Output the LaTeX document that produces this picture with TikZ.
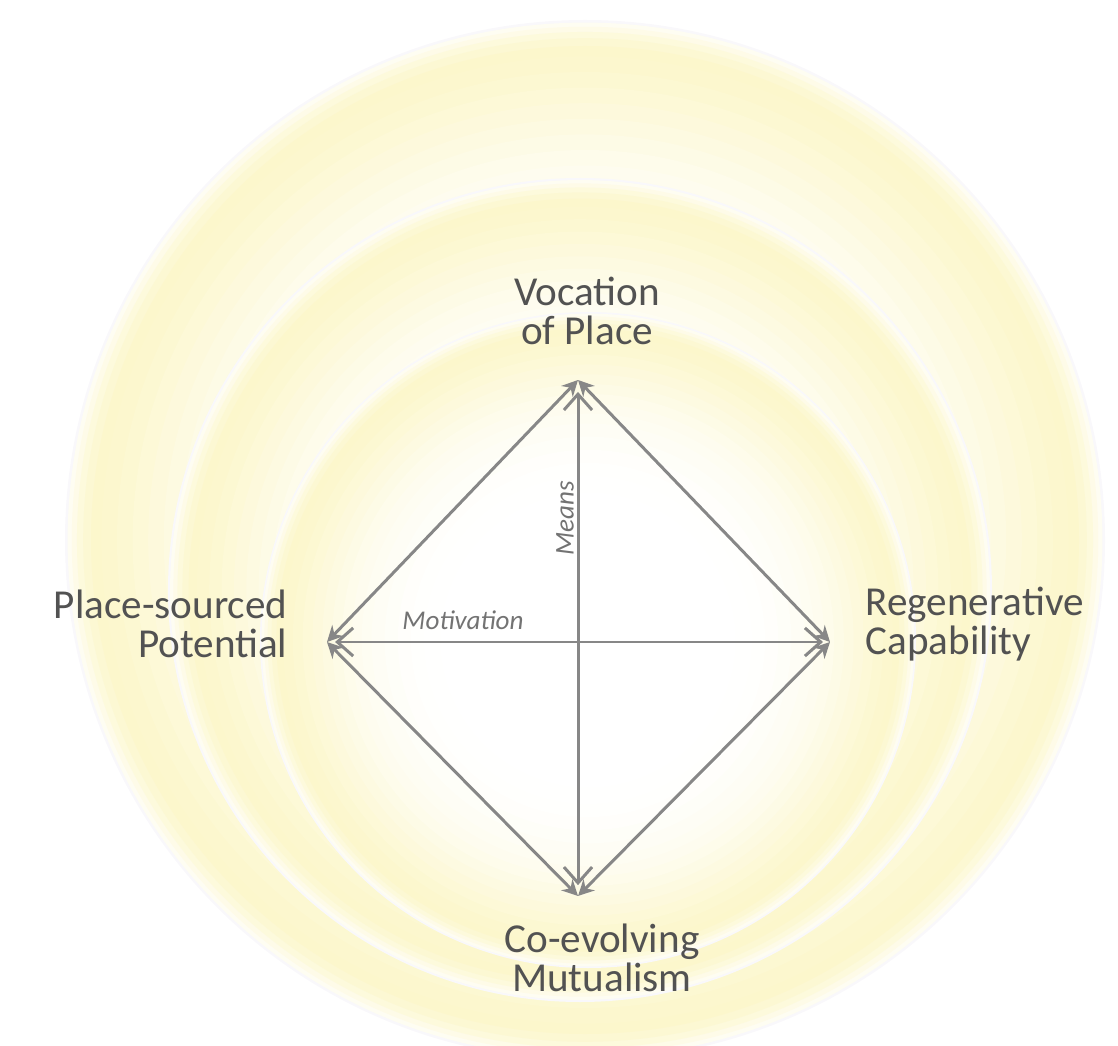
\documentclass[tikz,border=0pt]{standalone}
\usepackage{fontspec}
\setmainfont{Carlito}
\usetikzlibrary{arrows.meta}
\definecolor{glow}{RGB}{252,247,204}
\definecolor{rim}{RGB}{249,248,251}
\definecolor{linegray}{RGB}{135,135,135}
\definecolor{textgray}{RGB}{82,82,82}

\begin{document}
\begin{tikzpicture}[x=0.01cm, y=0.01cm,
    cornertext/.style={text=textgray, font=\fontsize{11.7}{10.9}\selectfont, inner sep=0pt},
    axistext/.style={text=linegray!85!black, font=\fontsize{7.7}{9}\selectfont\itshape, inner sep=0pt},
    side/.style={draw=linegray, line width=0.85pt, {Stealth[length=4.5pt,width=4.5pt]}-{Stealth[length=4.5pt,width=4.5pt]}},
    cross/.style={draw=linegray, line width=0.85pt, {Straight Barb[length=4.5pt,width=8pt]}-{Straight Barb[length=4.5pt,width=8pt]}}]
    \useasboundingbox (0,0) rectangle (1118,-1046);

    % Glowing discs, soft rim first, fading to white in the middle
    \foreach \cx/\cy/\r in {585/-540/520, 580/-590/412, 588/-640/328} {
        \fill[rim] (\cx,\cy) circle (\r);
        \foreach \f/\p in {0.995/25, 0.987/45, 0.977/68, 0.965/86, 0.95/100, 0.93/97,
                           0.90/89, 0.87/79, 0.84/69, 0.81/59, 0.78/49, 0.75/40,
                           0.72/32, 0.69/25, 0.66/19, 0.62/13, 0.58/8, 0.54/4,
                           0.5/2, 0.45/0} {
            \fill[glow!\p!white] (\cx,\cy) circle ({\f*\r});
        }
    }

    % Corners of the diamond
    \coordinate (vocation) at (578,-380);
    \coordinate (potential) at (327,-642);
    \coordinate (capability) at (830,-642);
    \coordinate (mutualism) at (578,-896);

    % Corner labels
    \node[cornertext, align=center] (vocationtext) at (587,-311) {Vocation\\of Place};
    \node[cornertext, align=right, anchor=east] (potentialtext) at (288,-624) {Place-sourced\\Potential};
    \node[cornertext, align=left, anchor=west] (capabilitytext) at (865,-624) {Regenerative\\Capability};
    \node[cornertext, align=center] (mutualismtext) at (602,-958) {Co-evolving\\Mutualism};

    % Sides
    \draw[side] (vocation) -- (potential);
    \draw[side] (vocation) -- (capability);
    \draw[side] (mutualism) -- (potential);
    \draw[side] (mutualism) -- (capability);

    % Cross
    \draw[cross, shorten <=3.4pt, shorten >=3.1pt] (vocation) -- (mutualism);
    \draw[cross, shorten <=2.3pt, shorten >=2pt] (potential) -- (capability);
    \node[axistext] (motivation) at (463,-620) {Motivation};
    \node[axistext, rotate=90] (means) at (565,-518) {Means};
\end{tikzpicture}
\end{document}
